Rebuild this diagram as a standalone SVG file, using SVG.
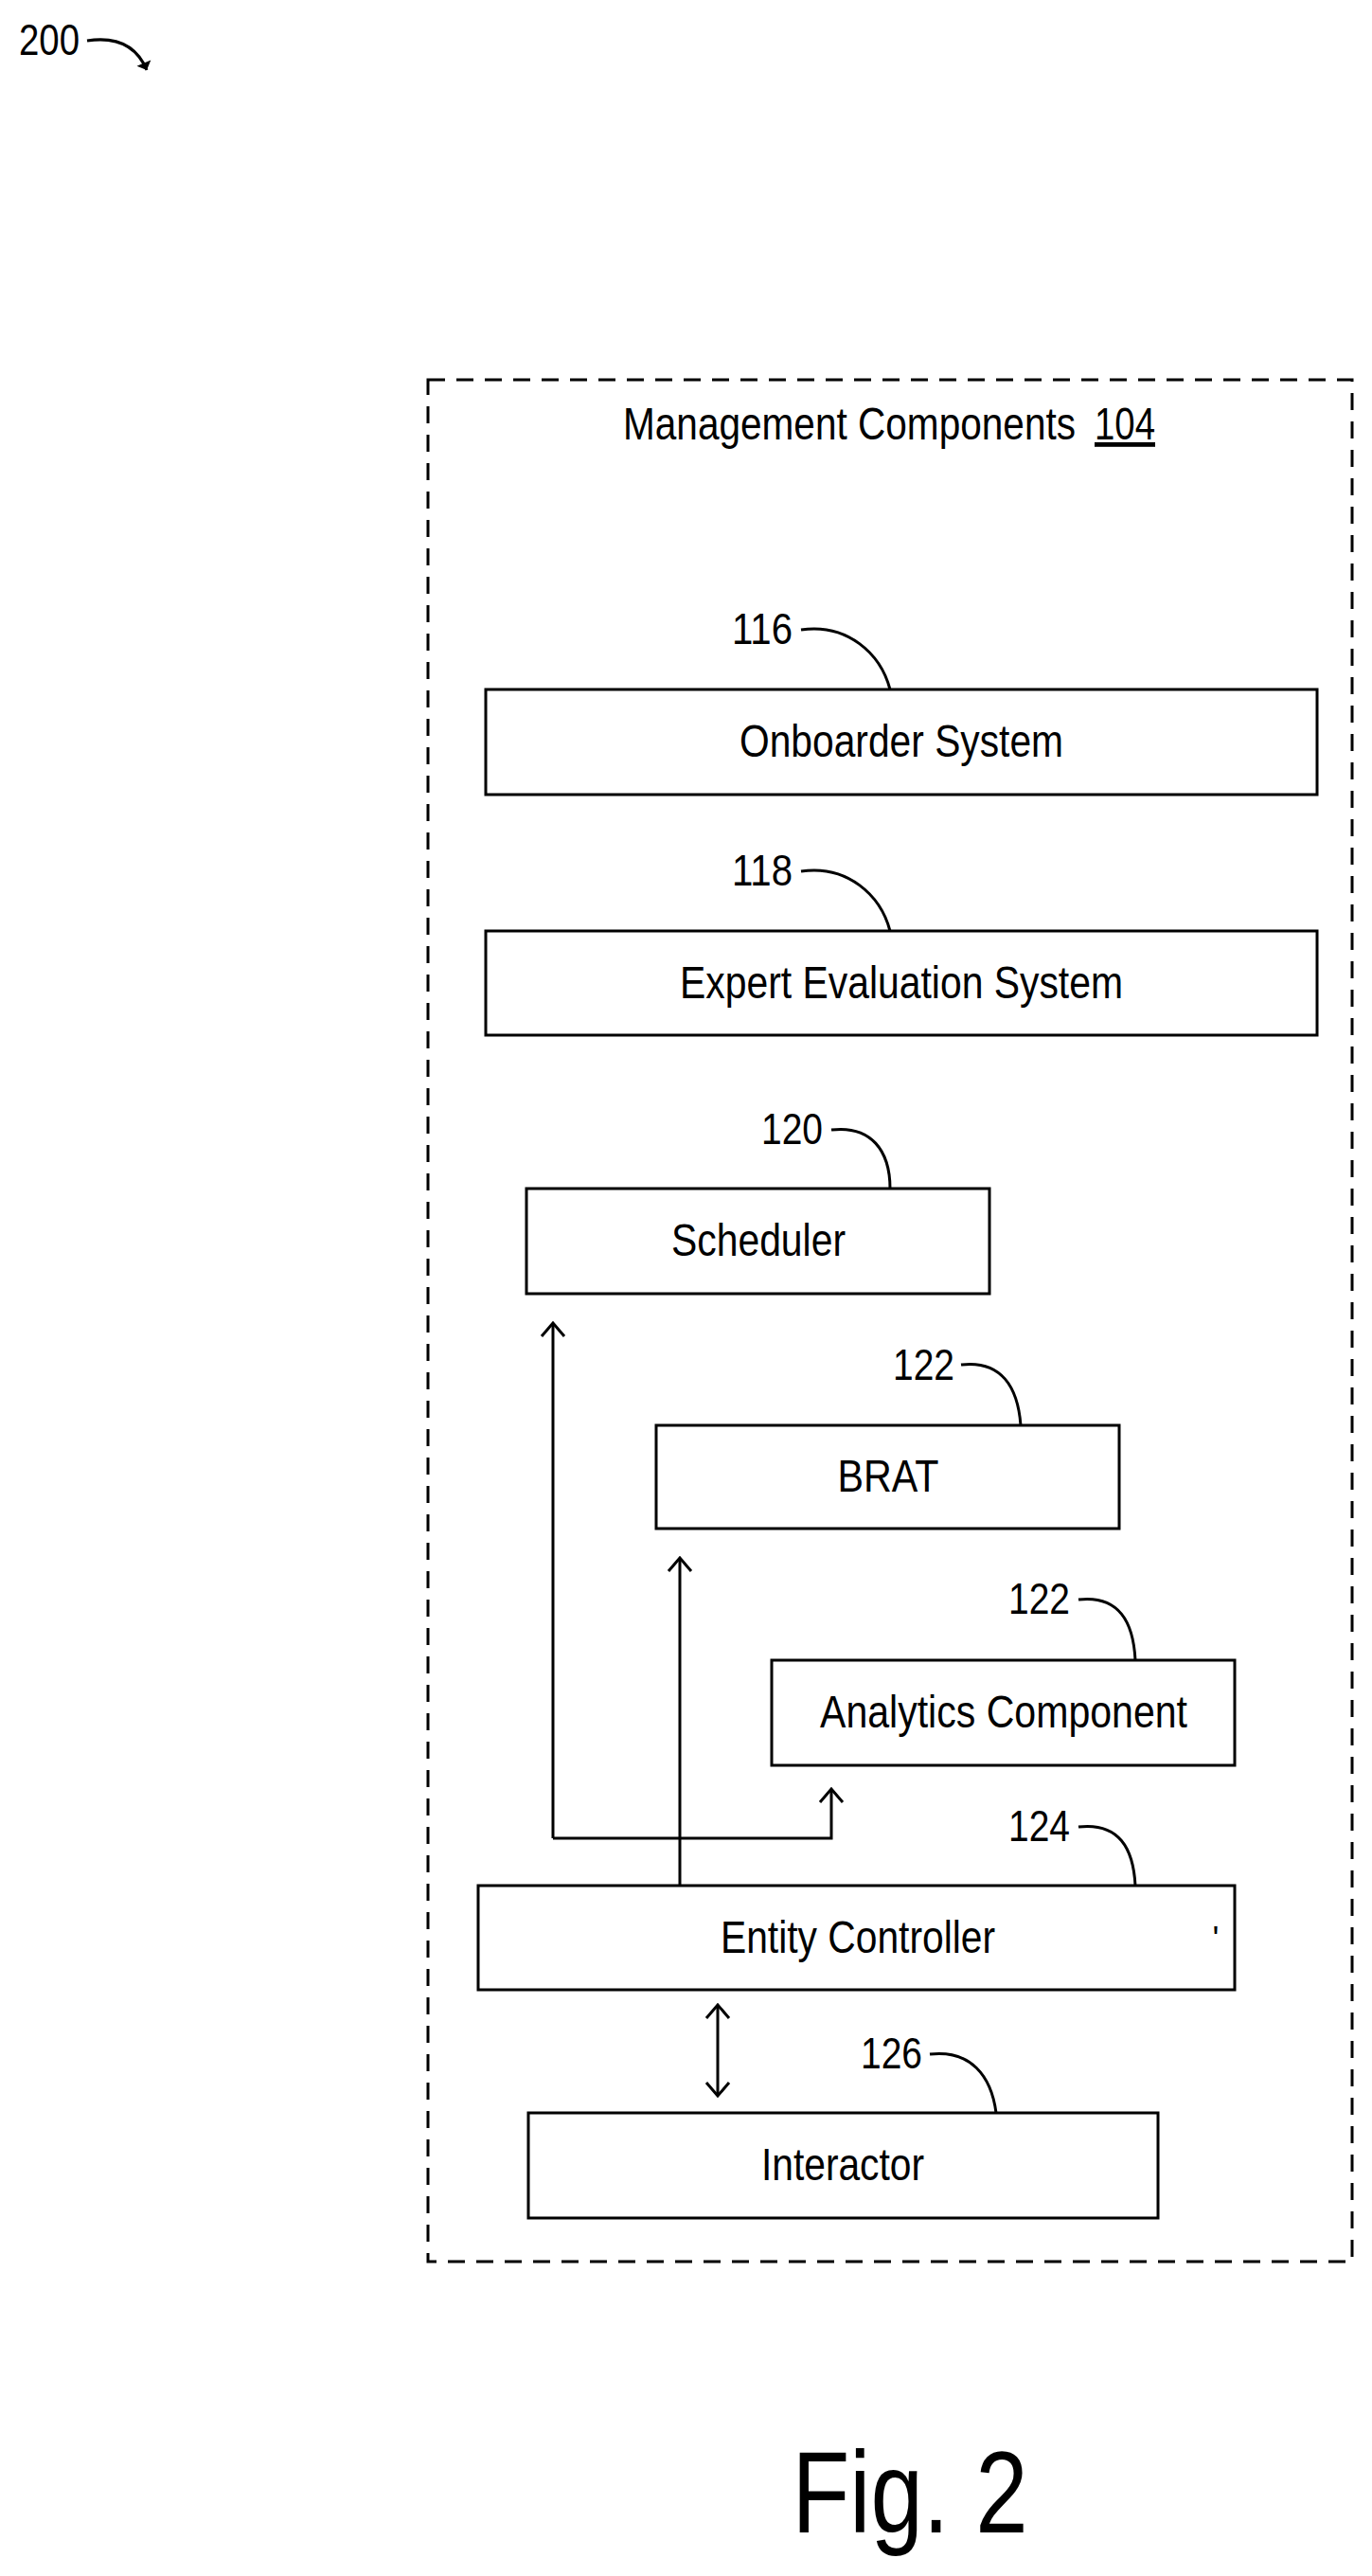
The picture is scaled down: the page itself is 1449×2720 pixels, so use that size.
<svg xmlns="http://www.w3.org/2000/svg" width="1449" height="2720" viewBox="0 0 1449 2720">
<style>
.b{fill:#fff;stroke:#000;stroke-width:3}
.t{font-family:"Liberation Sans",Arial,sans-serif;font-size:48px;text-anchor:middle;fill:#000}
.n{font-family:"Liberation Sans",Arial,sans-serif;font-size:46px;fill:#000}
.l{fill:none;stroke:#000;stroke-width:3}
</style>
<defs>
<marker id="a" viewBox="0 0 28 28" refX="26" refY="14" markerWidth="28" markerHeight="28" markerUnits="userSpaceOnUse" orient="auto-start-reverse">
<path d="M12,2 L26,14 L12,26" fill="none" stroke="#000" stroke-width="3"/>
</marker>
<marker id="h" viewBox="0 0 20 20" refX="10" refY="10" markerWidth="20" markerHeight="20" markerUnits="userSpaceOnUse" orient="auto">
<path d="M2,2 L10,10 L2,18 Z" fill="#000"/>
</marker>
</defs>
<g id="fig-ref">
<text class="n" x="20" y="58" textLength="64" lengthAdjust="spacingAndGlyphs">200</text>
<path class="l" d="M92,43 C125,38 145,50 155,74" marker-end="url(#h)"/>
</g>
<g id="container">
<rect x="452" y="401" width="976" height="1987" fill="none" stroke="#000" stroke-width="3" stroke-dasharray="18,12"/>
<text class="n" x="658" y="464" style="font-size:48px" textLength="478" lengthAdjust="spacingAndGlyphs">Management Components</text>
<text class="n" x="1156" y="464" style="font-size:48px" text-decoration="underline" textLength="64" lengthAdjust="spacingAndGlyphs">104</text>
</g>
<g id="onboarder">
<rect class="b" x="513" y="728" width="878" height="111"/>
<text class="t" x="952" y="799" textLength="342" lengthAdjust="spacingAndGlyphs">Onboarder System</text>
<text class="n" x="773" y="680" textLength="64" lengthAdjust="spacingAndGlyphs">116</text>
<path class="l" d="M846,665 C895,658 930,690 940,728"/>
</g>
<g id="expert">
<rect class="b" x="513" y="983" width="878" height="110"/>
<text class="t" x="952" y="1054" textLength="468" lengthAdjust="spacingAndGlyphs">Expert Evaluation System</text>
<text class="n" x="773" y="935" textLength="64" lengthAdjust="spacingAndGlyphs">118</text>
<path class="l" d="M846,920 C895,913 930,945 940,983"/>
</g>
<g id="scheduler">
<rect class="b" x="556" y="1255" width="489" height="111"/>
<text class="t" x="801" y="1326" textLength="184" lengthAdjust="spacingAndGlyphs">Scheduler</text>
<text class="n" x="804" y="1208" textLength="65" lengthAdjust="spacingAndGlyphs">120</text>
<path class="l" d="M878,1193 C920,1188 940,1215 940,1255"/>
</g>
<g id="brat">
<rect class="b" x="693" y="1505" width="489" height="109"/>
<text class="t" x="938" y="1575" textLength="107" lengthAdjust="spacingAndGlyphs">BRAT</text>
<text class="n" x="943" y="1457" textLength="65" lengthAdjust="spacingAndGlyphs">122</text>
<path class="l" d="M1015,1441 C1058,1436 1075,1465 1078,1505"/>
</g>
<g id="analytics">
<rect class="b" x="815" y="1753" width="489" height="111"/>
<text class="t" x="1060" y="1824" textLength="388" lengthAdjust="spacingAndGlyphs">Analytics Component</text>
<text class="n" x="1065" y="1704" textLength="65" lengthAdjust="spacingAndGlyphs">122</text>
<path class="l" d="M1139,1689 C1182,1684 1197,1713 1199,1753"/>
</g>
<g id="entity">
<rect class="b" x="505" y="1991" width="799" height="110"/>
<text class="t" x="906" y="2062" textLength="290" lengthAdjust="spacingAndGlyphs">Entity Controller</text>
<text class="t" x="1284" y="2060" style="font-size:36px">'</text>
<text class="n" x="1065" y="1944" textLength="65" lengthAdjust="spacingAndGlyphs">124</text>
<path class="l" d="M1139,1929 C1182,1924 1197,1952 1199,1991"/>
</g>
<g id="interactor">
<rect class="b" x="558" y="2231" width="665" height="111"/>
<text class="t" x="890" y="2302" textLength="172" lengthAdjust="spacingAndGlyphs">Interactor</text>
<text class="n" x="909" y="2184" textLength="65" lengthAdjust="spacingAndGlyphs">126</text>
<path class="l" d="M982,2169 C1025,2164 1047,2192 1052,2231"/>
</g>
<g id="connectors">
<path class="l" d="M584,1941 L584,1397" marker-end="url(#a)"/>
<path class="l" d="M584,1941 L878,1941 L878,1889" marker-end="url(#a)"/>
<path class="l" d="M718,1991 L718,1645" marker-end="url(#a)"/>
<path class="l" d="M758,2117 L758,2213" marker-start="url(#a)" marker-end="url(#a)"/>
</g>
<g id="caption">
<text class="t" x="961" y="2674" style="font-size:122px" textLength="249" lengthAdjust="spacingAndGlyphs">Fig. 2</text>
</g>
</svg>
